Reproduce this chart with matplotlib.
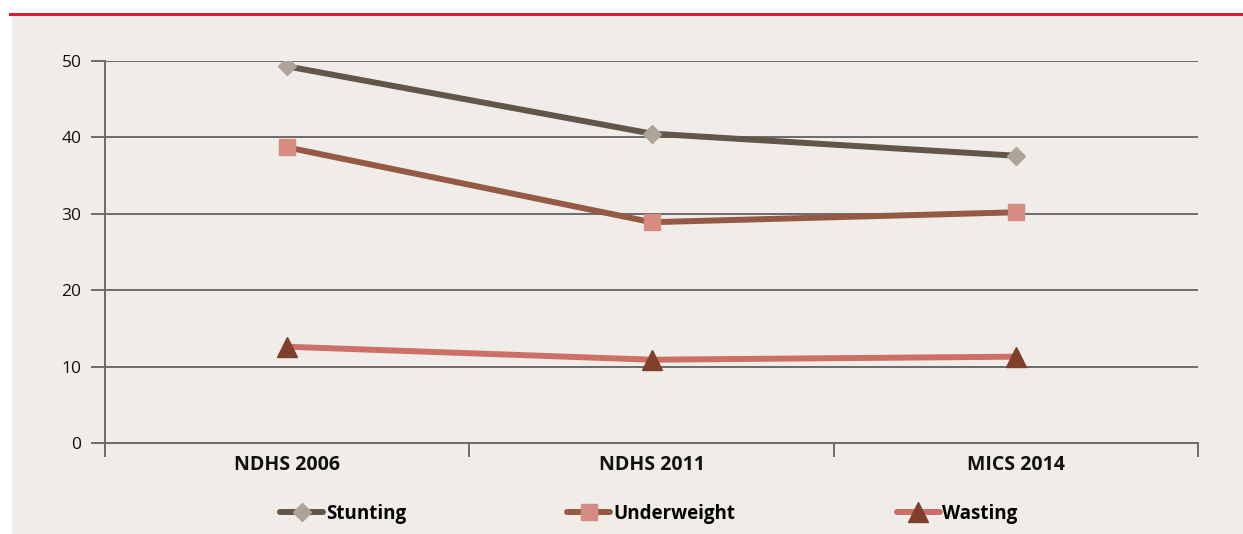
import matplotlib
matplotlib.use("Agg")
import matplotlib.pyplot as plt
from matplotlib.patches import Rectangle
from matplotlib.lines import Line2D

# Survey rounds and prevalence (%) of child undernutrition indicators
surveys = ["NDHS 2006", "NDHS 2011", "MICS 2014"]
stunting = [49.3, 40.5, 37.6]
underweight = [38.7, 28.9, 30.2]
wasting = [12.6, 10.9, 11.3]
y_ticks = [0, 10, 20, 30, 40, 50]

BG = "#F0EDE8"
GRID = "#6B6B6B"
plt.rcParams["font.family"] = ["Open Sans", "DejaVu Sans"]

W, H = 1243, 534
fig = plt.figure(figsize=(W / 100, H / 100), dpi=100)
fig.patch.set_facecolor("white")

# beige panel with red rule along the top
fig.patches.append(Rectangle((12 / W, 0), 1 - 12 / W, 1 - 15 / H,
                             transform=fig.transFigure, facecolor=BG,
                             edgecolor="none", zorder=-10))
fig.lines.append(Line2D([10 / W, 1], [1 - 14 / H, 1 - 14 / H],
                        transform=fig.transFigure, color="#DA2032",
                        linewidth=2.2, zorder=-5))

ax = fig.add_axes([105 / W, 1 - 443 / H, (1198 - 105) / W, (443 - 61) / H])
ax.set_facecolor("none")
ax.set_zorder(1)

x = list(range(len(surveys)))
series = [
    ("Stunting", stunting, "#62564B", "D", "#ADA398", 9.5),
    ("Underweight", underweight, "#955A45", "s", "#D68C80", 12),
    ("Wasting", wasting, "#CC6F67", "^", "#7F3F2B", 14),
]
for name, vals, lc, mk, mc, ms in series:
    ax.plot(x, vals, color=lc, linewidth=4.3, marker=mk, markersize=ms,
            markerfacecolor=mc, markeredgecolor=mc, label=name,
            solid_capstyle="round", zorder=3)

ax.set_xlim(-0.5, len(surveys) - 0.5)
ax.set_ylim(0, 50)
ax.set_yticks(y_ticks)
ax.set_yticklabels([str(v) for v in y_ticks], fontsize=12.5, color="#111111")
ax.yaxis.grid(True, color=GRID, linewidth=1.4)
ax.set_axisbelow(True)

# category labels centred, ticks on category boundaries
ax.set_xticks(x)
ax.set_xticklabels(surveys, fontsize=14, fontweight="bold", color="#111111")
ax.tick_params(axis="x", length=0, pad=9)
ax.set_xticks([i - 0.5 for i in range(len(surveys) + 1)], minor=True)
ax.tick_params(axis="x", which="minor", length=10, width=1.4, color=GRID)
ax.tick_params(axis="y", length=10, width=1.4, color=GRID, pad=7)

for side in ["top", "right"]:
    ax.spines[side].set_visible(False)
ax.spines["left"].set_color(GRID)
ax.spines["left"].set_linewidth(1.4)
ax.spines["bottom"].set_color(GRID)
ax.spines["bottom"].set_linewidth(1.4)

handles, labels = ax.get_legend_handles_labels()
leg = fig.legend(handles, labels, loc="center", bbox_to_anchor=(0.522, 1 - 514 / H),
                 ncol=3, frameon=False, handlelength=2.3, handletextpad=0.15,
                 columnspacing=8.6, prop={"weight": "bold", "size": 13.5})

fig.savefig("out.png", dpi=100, facecolor=fig.get_facecolor())
